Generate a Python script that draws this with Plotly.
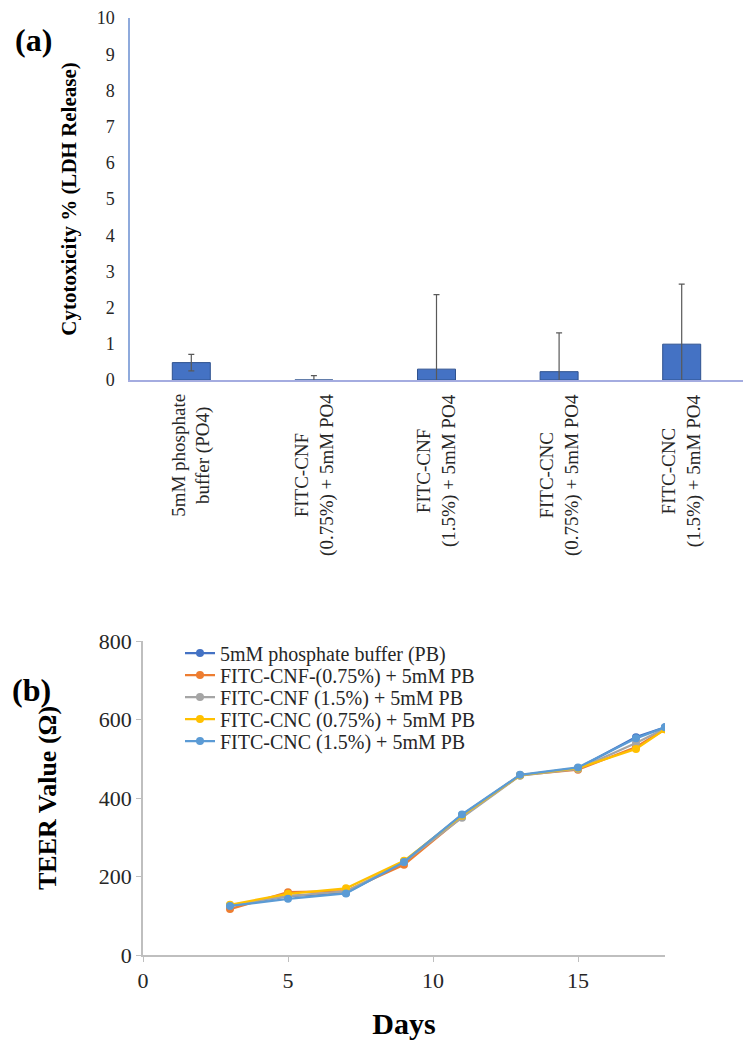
import plotly.graph_objects as go

# ---------- Panel (a): LDH cytotoxicity ----------
categories = [
    "5mM phosphate<br>buffer (PO4)",
    "FITC-CNF<br>(0.75%) + 5mM PO4",
    "FITC-CNF<br>(1.5%) + 5mM PO4",
    "FITC-CNC<br>(0.75%) + 5mM PO4",
    "FITC-CNC<br>(1.5%) + 5mM PO4",
]
cytotoxicity = [0.48, 0.0, 0.30, 0.23, 0.99]
cytotoxicity_err = [0.23, 0.12, 2.06, 1.07, 1.66]
y_ticks_a = [0, 1, 2, 3, 4, 5, 6, 7, 8, 9, 10]

# ---------- Panel (b): TEER ----------
days = [3, 5, 7, 9, 11, 13, 15, 17, 18]
series_names = [
    "5mM phosphate buffer (PB)",
    "FITC-CNF-(0.75%) + 5mM PB",
    "FITC-CNF (1.5%) + 5mM PB",
    "FITC-CNC (0.75%) + 5mM PB",
    "FITC-CNC (1.5%) + 5mM PB",
]
teer_pb = [125, 150, 158, 237, 357, 458, 476, 555, 580]
teer_cnf075 = [117, 160, 163, 230, 352, 458, 472, 530, 575]
teer_cnf15 = [127, 150, 162, 237, 350, 457, 474, 540, 577]
teer_cnc075 = [128, 156, 170, 240, 355, 458, 476, 525, 575]
teer_cnc15 = [125, 143, 157, 237, 358, 459, 478, 552, 580]
series_values = [teer_pb, teer_cnf075, teer_cnf15, teer_cnc075, teer_cnc15]
series_colors = ["#4472C4", "#ED7D31", "#A5A5A5", "#FFC000", "#5B9BD5"]
x_ticks_b = [0, 5, 10, 15]
y_ticks_b = [0, 200, 400, 600, 800]

SERIF = "Liberation Serif, Times New Roman, serif"
PAGE_OFFSET = 8           # default body margin of the HTML page
W, H = 756 - PAGE_OFFSET, 1050 - PAGE_OFFSET


def px_x(p):
    return (p - PAGE_OFFSET) / W


def px_y(p):
    return 1 - (p - PAGE_OFFSET) / H


fig = go.Figure()

fig.add_trace(go.Bar(
    x=categories, y=cytotoxicity,
    error_y=dict(type="data", array=cytotoxicity_err, symmetric=True,
                 color="#595959", thickness=1.2, width=3),
    marker=dict(color="#4472C4", line=dict(color="#2F528F", width=1)),
    width=0.31, xaxis="x", yaxis="y", showlegend=False,
))

legend_ids = ["legend", "legend2", "legend3", "legend4", "legend5"]
for name, vals, col, lid in zip(series_names, series_values, series_colors, legend_ids):
    fig.add_trace(go.Scatter(
        x=days, y=vals, name=name, mode="lines+markers",
        line=dict(color=col, width=2.25),
        marker=dict(color=col, size=8),
        xaxis="x2", yaxis="y2", legend=lid,
    ))

legend_rows_px = [653, 675, 697, 719, 741]
legend_layout = {}
for lid, row in zip(legend_ids, legend_rows_px):
    legend_layout[lid] = dict(
        x=px_x(180), y=px_y(row), xanchor="left", yanchor="middle",
        font=dict(size=20, family=SERIF, color="#262626"),
        bgcolor="rgba(0,0,0,0)", itemwidth=30,
    )

fig.update_layout(
    width=W, height=H,
    margin=dict(l=0, r=0, t=0, b=0),
    paper_bgcolor="white", plot_bgcolor="white",
    font=dict(family=SERIF, color="#262626"),
    showlegend=True,
    xaxis=dict(
        domain=[px_x(130), px_x(743)], anchor="y", automargin=False,
        showticklabels=False, ticks="", showgrid=False,
        showline=True, linecolor="#A4ACE0", linewidth=1.5,
    ),
    yaxis=dict(
        domain=[px_y(380), px_y(18)], anchor="x", automargin=False,
        range=[0, 10], tickvals=y_ticks_a, showgrid=False, zeroline=False,
        showline=True, linecolor="#8FAADC", linewidth=1.5, ticks="",
        tickfont=dict(size=18, family=SERIF, color="#262626"), ticklabelstandoff=10,
        ticklabeloverflow="allow",
        title=dict(text="<b>Cytotoxicity % (LDH Release)</b>",
                   font=dict(size=21, family=SERIF, color="#000000"), standoff=14),
    ),
    xaxis2=dict(
        domain=[px_x(143), px_x(665)], anchor="y2", automargin=False,
        range=[0, 18], tickvals=x_ticks_b, showgrid=False, zeroline=False,
        showline=True, linecolor="#BFBFBF", linewidth=1.5,
        ticks="outside", ticklen=5, tickcolor="#BFBFBF",
        tickfont=dict(size=22, family=SERIF, color="#262626"),
        title=dict(text="<b>Days</b>", font=dict(size=30, family=SERIF, color="#000000"),
                   standoff=21),
    ),
    yaxis2=dict(
        domain=[px_y(955), px_y(641)], anchor="x2", automargin=False,
        range=[0, 800], tickvals=y_ticks_b, showgrid=False, zeroline=False,
        showline=True, linecolor="#BFBFBF", linewidth=1.5,
        ticks="outside", ticklen=5, tickcolor="#BFBFBF",
        tickfont=dict(size=22, family=SERIF, color="#262626"),
        title=dict(text="<b>TEER Value (Ω)</b>", font=dict(size=26, family=SERIF, color="#000000"),
                   standoff=35),
    ),
    bargap=0.69,
    **legend_layout,
)

annotations = []
for cat in categories:
    annotations.append(dict(
        x=cat, y=0, xref="x", yref="y", text=cat, showarrow=False,
        textangle=-90, xanchor="center", yanchor="top", yshift=-12,
        align="center", font=dict(size=19, family=SERIF, color="#262626"),
    ))
annotations.append(dict(x=px_x(33), y=px_y(40), xref="paper", yref="paper",
                        xanchor="center", yanchor="middle",
                        text="<b>(a)</b>", showarrow=False,
                        font=dict(size=32, family=SERIF, color="#000000")))
annotations.append(dict(x=px_x(31), y=px_y(690), xref="paper", yref="paper",
                        xanchor="center", yanchor="middle",
                        text="<b>(b)</b>", showarrow=False,
                        font=dict(size=32, family=SERIF, color="#000000")))
fig.update_layout(annotations=annotations)

fig.write_html("out.html")
